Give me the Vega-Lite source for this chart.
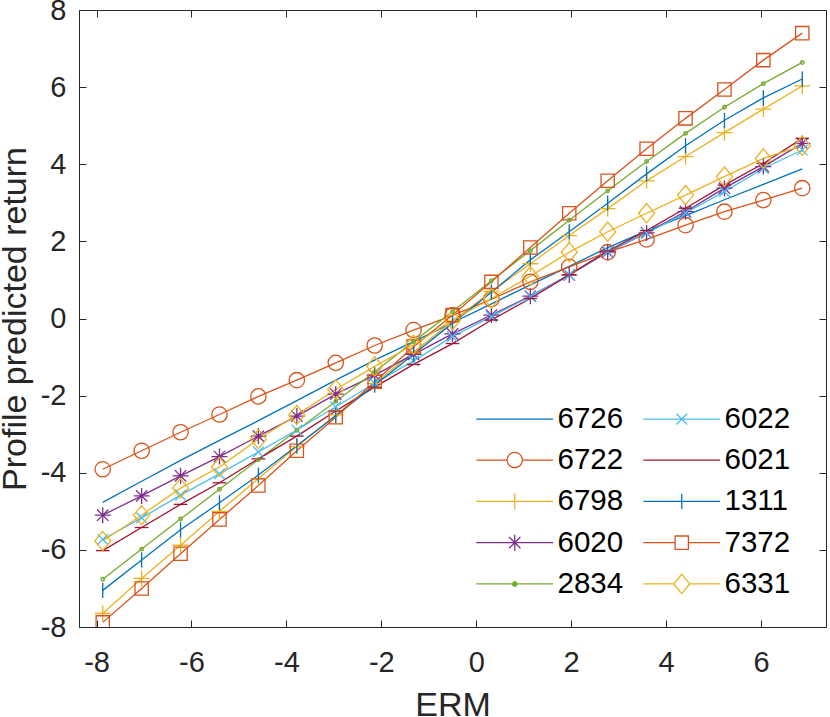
{
  "$schema": "https://vega.github.io/schema/vega-lite/v6.json",
  "width": 747,
  "height": 617,
  "autosize": {"type": "none"},
  "padding": {"left": 79, "top": 10, "right": 4, "bottom": 90},
  "background": "white",
  "config": {
    "view": {"stroke": "#262626", "strokeWidth": 1},
    "axis": {
      "domain": false,
      "grid": false,
      "labelFont": "Liberation Sans",
      "labelFontSize": 29,
      "labelColor": "#262626",
      "labelExpr": "datum.value < 0 ? '-' + abs(datum.value) : '' + datum.value",
      "tickColor": "#262626",
      "tickWidth": 1,
      "tickSize": -7,
      "titleFont": "Liberation Sans",
      "titleFontSize": 34,
      "titleFontWeight": "normal",
      "titleColor": "#262626"
    }
  },
  "data": {
    "values": [
      {"industry": "6726", "erm": -7.87, "ret": -4.77}, {"industry": "6726", "erm": -7.05, "ret": -4.22}, {"industry": "6726", "erm": -6.23, "ret": -3.68}, {"industry": "6726", "erm": -5.41, "ret": -3.16}, {"industry": "6726", "erm": -4.59, "ret": -2.65}, {"industry": "6726", "erm": -3.78, "ret": -2.13}, {"industry": "6726", "erm": -2.96, "ret": -1.60}, {"industry": "6726", "erm": -2.14, "ret": -1.08}, {"industry": "6726", "erm": -1.32, "ret": -0.60}, {"industry": "6726", "erm": -0.50, "ret": -0.11}, {"industry": "6726", "erm": 0.32, "ret": 0.38}, {"industry": "6726", "erm": 1.14, "ret": 0.87}, {"industry": "6726", "erm": 1.96, "ret": 1.35}, {"industry": "6726", "erm": 2.77, "ret": 1.84}, {"industry": "6726", "erm": 3.59, "ret": 2.27}, {"industry": "6726", "erm": 4.41, "ret": 2.67}, {"industry": "6726", "erm": 5.23, "ret": 3.08}, {"industry": "6726", "erm": 6.05, "ret": 3.48}, {"industry": "6726", "erm": 6.87, "ret": 3.88},
      {"industry": "6722", "erm": -7.87, "ret": -3.91}, {"industry": "6722", "erm": -7.05, "ret": -3.43}, {"industry": "6722", "erm": -6.23, "ret": -2.95}, {"industry": "6722", "erm": -5.41, "ret": -2.49}, {"industry": "6722", "erm": -4.59, "ret": -2.02}, {"industry": "6722", "erm": -3.78, "ret": -1.60}, {"industry": "6722", "erm": -2.96, "ret": -1.15}, {"industry": "6722", "erm": -2.14, "ret": -0.70}, {"industry": "6722", "erm": -1.32, "ret": -0.30}, {"industry": "6722", "erm": -0.50, "ret": 0.08}, {"industry": "6722", "erm": 0.32, "ret": 0.50}, {"industry": "6722", "erm": 1.14, "ret": 0.95}, {"industry": "6722", "erm": 1.96, "ret": 1.34}, {"industry": "6722", "erm": 2.77, "ret": 1.72}, {"industry": "6722", "erm": 3.59, "ret": 2.05}, {"industry": "6722", "erm": 4.41, "ret": 2.42}, {"industry": "6722", "erm": 5.23, "ret": 2.77}, {"industry": "6722", "erm": 6.05, "ret": 3.07}, {"industry": "6722", "erm": 6.87, "ret": 3.38},
      {"industry": "6798", "erm": -7.87, "ret": -7.65}, {"industry": "6798", "erm": -7.05, "ret": -6.74}, {"industry": "6798", "erm": -6.23, "ret": -5.88}, {"industry": "6798", "erm": -5.41, "ret": -5.00}, {"industry": "6798", "erm": -4.59, "ret": -4.15}, {"industry": "6798", "erm": -3.78, "ret": -3.32}, {"industry": "6798", "erm": -2.96, "ret": -2.50}, {"industry": "6798", "erm": -2.14, "ret": -1.68}, {"industry": "6798", "erm": -1.32, "ret": -0.87}, {"industry": "6798", "erm": -0.50, "ret": -0.07}, {"industry": "6798", "erm": 0.32, "ret": 0.70}, {"industry": "6798", "erm": 1.14, "ret": 1.42}, {"industry": "6798", "erm": 1.96, "ret": 2.15}, {"industry": "6798", "erm": 2.77, "ret": 2.85}, {"industry": "6798", "erm": 3.59, "ret": 3.57}, {"industry": "6798", "erm": 4.41, "ret": 4.20}, {"industry": "6798", "erm": 5.23, "ret": 4.82}, {"industry": "6798", "erm": 6.05, "ret": 5.43}, {"industry": "6798", "erm": 6.87, "ret": 6.03},
      {"industry": "6020", "erm": -7.87, "ret": -5.10}, {"industry": "6020", "erm": -7.05, "ret": -4.60}, {"industry": "6020", "erm": -6.23, "ret": -4.08}, {"industry": "6020", "erm": -5.41, "ret": -3.58}, {"industry": "6020", "erm": -4.59, "ret": -3.05}, {"industry": "6020", "erm": -3.78, "ret": -2.53}, {"industry": "6020", "erm": -2.96, "ret": -1.96}, {"industry": "6020", "erm": -2.14, "ret": -1.47}, {"industry": "6020", "erm": -1.32, "ret": -0.93}, {"industry": "6020", "erm": -0.50, "ret": -0.40}, {"industry": "6020", "erm": 0.32, "ret": 0.09}, {"industry": "6020", "erm": 1.14, "ret": 0.58}, {"industry": "6020", "erm": 1.96, "ret": 1.13}, {"industry": "6020", "erm": 2.77, "ret": 1.72}, {"industry": "6020", "erm": 3.59, "ret": 2.22}, {"industry": "6020", "erm": 4.41, "ret": 2.77}, {"industry": "6020", "erm": 5.23, "ret": 3.38}, {"industry": "6020", "erm": 6.05, "ret": 3.94}, {"industry": "6020", "erm": 6.87, "ret": 4.54},
      {"industry": "2834", "erm": -7.87, "ret": -6.76}, {"industry": "2834", "erm": -7.05, "ret": -5.98}, {"industry": "2834", "erm": -6.23, "ret": -5.20}, {"industry": "2834", "erm": -5.41, "ret": -4.43}, {"industry": "2834", "erm": -4.59, "ret": -3.66}, {"industry": "2834", "erm": -3.78, "ret": -2.90}, {"industry": "2834", "erm": -2.96, "ret": -2.15}, {"industry": "2834", "erm": -2.14, "ret": -1.38}, {"industry": "2834", "erm": -1.32, "ret": -0.60}, {"industry": "2834", "erm": -0.50, "ret": 0.18}, {"industry": "2834", "erm": 0.32, "ret": 0.98}, {"industry": "2834", "erm": 1.14, "ret": 1.76}, {"industry": "2834", "erm": 1.96, "ret": 2.55}, {"industry": "2834", "erm": 2.77, "ret": 3.31}, {"industry": "2834", "erm": 3.59, "ret": 4.07}, {"industry": "2834", "erm": 4.41, "ret": 4.80}, {"industry": "2834", "erm": 5.23, "ret": 5.48}, {"industry": "2834", "erm": 6.05, "ret": 6.09}, {"industry": "2834", "erm": 6.87, "ret": 6.64},
      {"industry": "6022", "erm": -7.87, "ret": -5.73}, {"industry": "6022", "erm": -7.05, "ret": -5.17}, {"industry": "6022", "erm": -6.23, "ret": -4.58}, {"industry": "6022", "erm": -5.41, "ret": -4.03}, {"industry": "6022", "erm": -4.59, "ret": -3.46}, {"industry": "6022", "erm": -3.78, "ret": -2.89}, {"industry": "6022", "erm": -2.96, "ret": -2.29}, {"industry": "6022", "erm": -2.14, "ret": -1.68}, {"industry": "6022", "erm": -1.32, "ret": -1.10}, {"industry": "6022", "erm": -0.50, "ret": -0.47}, {"industry": "6022", "erm": 0.32, "ret": 0.05}, {"industry": "6022", "erm": 1.14, "ret": 0.57}, {"industry": "6022", "erm": 1.96, "ret": 1.13}, {"industry": "6022", "erm": 2.77, "ret": 1.74}, {"industry": "6022", "erm": 3.59, "ret": 2.21}, {"industry": "6022", "erm": 4.41, "ret": 2.74}, {"industry": "6022", "erm": 5.23, "ret": 3.29}, {"industry": "6022", "erm": 6.05, "ret": 3.89}, {"industry": "6022", "erm": 6.87, "ret": 4.37},
      {"industry": "6021", "erm": -7.87, "ret": -6.02}, {"industry": "6021", "erm": -7.05, "ret": -5.42}, {"industry": "6021", "erm": -6.23, "ret": -4.82}, {"industry": "6021", "erm": -5.41, "ret": -4.26}, {"industry": "6021", "erm": -4.59, "ret": -3.64}, {"industry": "6021", "erm": -3.78, "ret": -3.05}, {"industry": "6021", "erm": -2.96, "ret": -2.40}, {"industry": "6021", "erm": -2.14, "ret": -1.78}, {"industry": "6021", "erm": -1.32, "ret": -1.19}, {"industry": "6021", "erm": -0.50, "ret": -0.65}, {"industry": "6021", "erm": 0.32, "ret": -0.04}, {"industry": "6021", "erm": 1.14, "ret": 0.52}, {"industry": "6021", "erm": 1.96, "ret": 1.13}, {"industry": "6021", "erm": 2.77, "ret": 1.75}, {"industry": "6021", "erm": 3.59, "ret": 2.28}, {"industry": "6021", "erm": 4.41, "ret": 2.86}, {"industry": "6021", "erm": 5.23, "ret": 3.46}, {"industry": "6021", "erm": 6.05, "ret": 4.02}, {"industry": "6021", "erm": 6.87, "ret": 4.67},
      {"industry": "1311", "erm": -7.87, "ret": -7.05}, {"industry": "1311", "erm": -7.05, "ret": -6.26}, {"industry": "1311", "erm": -6.23, "ret": -5.48}, {"industry": "1311", "erm": -5.41, "ret": -4.78}, {"industry": "1311", "erm": -4.59, "ret": -4.06}, {"industry": "1311", "erm": -3.78, "ret": -3.30}, {"industry": "1311", "erm": -2.96, "ret": -2.52}, {"industry": "1311", "erm": -2.14, "ret": -1.73}, {"industry": "1311", "erm": -1.32, "ret": -0.93}, {"industry": "1311", "erm": -0.50, "ret": -0.12}, {"industry": "1311", "erm": 0.32, "ret": 0.68}, {"industry": "1311", "erm": 1.14, "ret": 1.52}, {"industry": "1311", "erm": 1.96, "ret": 2.25}, {"industry": "1311", "erm": 2.77, "ret": 2.99}, {"industry": "1311", "erm": 3.59, "ret": 3.75}, {"industry": "1311", "erm": 4.41, "ret": 4.48}, {"industry": "1311", "erm": 5.23, "ret": 5.14}, {"industry": "1311", "erm": 6.05, "ret": 5.72}, {"industry": "1311", "erm": 6.87, "ret": 6.21},
      {"industry": "7372", "erm": -7.87, "ret": -7.88}, {"industry": "7372", "erm": -7.05, "ret": -7.00}, {"industry": "7372", "erm": -6.23, "ret": -6.10}, {"industry": "7372", "erm": -5.41, "ret": -5.21}, {"industry": "7372", "erm": -4.59, "ret": -4.33}, {"industry": "7372", "erm": -3.78, "ret": -3.43}, {"industry": "7372", "erm": -2.96, "ret": -2.56}, {"industry": "7372", "erm": -2.14, "ret": -1.64}, {"industry": "7372", "erm": -1.32, "ret": -0.73}, {"industry": "7372", "erm": -0.50, "ret": 0.09}, {"industry": "7372", "erm": 0.32, "ret": 0.95}, {"industry": "7372", "erm": 1.14, "ret": 1.84}, {"industry": "7372", "erm": 1.96, "ret": 2.73}, {"industry": "7372", "erm": 2.77, "ret": 3.57}, {"industry": "7372", "erm": 3.59, "ret": 4.40}, {"industry": "7372", "erm": 4.41, "ret": 5.19}, {"industry": "7372", "erm": 5.23, "ret": 5.94}, {"industry": "7372", "erm": 6.05, "ret": 6.70}, {"industry": "7372", "erm": 6.87, "ret": 7.40},
      {"industry": "6331", "erm": -7.87, "ret": -5.77}, {"industry": "6331", "erm": -7.05, "ret": -5.10}, {"industry": "6331", "erm": -6.23, "ret": -4.40}, {"industry": "6331", "erm": -5.41, "ret": -3.85}, {"industry": "6331", "erm": -4.59, "ret": -3.13}, {"industry": "6331", "erm": -3.78, "ret": -2.50}, {"industry": "6331", "erm": -2.96, "ret": -1.84}, {"industry": "6331", "erm": -2.14, "ret": -1.24}, {"industry": "6331", "erm": -1.32, "ret": -0.68}, {"industry": "6331", "erm": -0.50, "ret": -0.04}, {"industry": "6331", "erm": 0.32, "ret": 0.52}, {"industry": "6331", "erm": 1.14, "ret": 1.10}, {"industry": "6331", "erm": 1.96, "ret": 1.72}, {"industry": "6331", "erm": 2.77, "ret": 2.25}, {"industry": "6331", "erm": 3.59, "ret": 2.73}, {"industry": "6331", "erm": 4.41, "ret": 3.20}, {"industry": "6331", "erm": 5.23, "ret": 3.68}, {"industry": "6331", "erm": 6.05, "ret": 4.15}, {"industry": "6331", "erm": 6.87, "ret": 4.48}
    ]
  },
  "resolve": {"scale": {"x": "independent", "y": "independent"}},
  "layer": [
    {
      "encoding": {
        "x": {
          "field": "erm", "type": "quantitative",
          "scale": {"domain": [-8.37, 7.37], "nice": false, "zero": false},
          "axis": {
            "orient": "bottom", "values": [-8, -6, -4, -2, 0, 2, 4, 6],
            "labelPadding": 28, "title": "ERM",
            "titleX": 373.5, "titleY": 88, "titleBaseline": "alphabetic"
          }
        },
        "y": {
          "field": "ret", "type": "quantitative",
          "scale": {"domain": [-8, 8], "nice": false, "zero": false},
          "axis": {
            "orient": "left", "values": [-8, -6, -4, -2, 0, 2, 4, 6, 8],
            "labelPadding": 20, "title": "Profile predicted return",
            "titleX": -54, "titleY": 308.5, "titleAngle": -90,
            "titleAlign": "center", "titleBaseline": "alphabetic"
          }
        },
        "color": {
          "field": "industry", "type": "nominal",
          "scale": {
            "domain": ["6726", "6722", "6798", "6020", "2834", "6022", "6021", "1311", "7372", "6331"],
            "range": ["#0072BD", "#D95319", "#EDB120", "#7E2F8E", "#77AC30", "#4DBEEE", "#A2142F", "#0072BD", "#D95319", "#EDB120"]
          },
          "legend": {
            "orient": "none", "legendX": 421, "legendY": 394,
            "columns": 2, "title": null, "padding": 0,
            "labelFont": "Liberation Sans", "labelFontSize": 29.5, "labelColor": "#000000",
            "labelOffset": 28, "rowPadding": 10.3, "columnPadding": 16,
            "symbolSize": 256, "symbolStrokeWidth": 1.3,
            "encoding": {
              "symbols": {
                "shape": {"value": {"expr": "{'6726': 'M-4.8,0L4.8,0', '6022': 'M-4.8,0L4.8,0M-0.67,-0.67L0.67,0.67M-0.67,0.67L0.67,-0.67', '6722': 'M-4.8,0L-0.96,0M0.96,0L4.8,0M0.96,0A0.96,0.96,0,1,1,-0.96,0A0.96,0.96,0,1,1,0.96,0Z', '6021': 'M-4.8,0L4.8,0', '6798': 'M-4.8,0L4.8,0M0,-1L0,1', '1311': 'M-4.8,0L4.8,0M0,-0.95L0,0.95', '6020': 'M-4.8,0L4.8,0M0,-1L0,1M-0.71,-0.71L0.71,0.71M-0.71,0.71L0.71,-0.71', '7372': 'M-4.8,0L-0.83,0M0.83,0L4.8,0M-0.83,-0.83L0.83,-0.83L0.83,0.83L-0.83,0.83Z', '2834': 'M-4.8,0L4.8,0M0.28,0A0.28,0.28,0,1,1,-0.28,0A0.28,0.28,0,1,1,0.28,0Z', '6331': 'M-4.8,0L-1,0M1,0L4.8,0M0,-1.2L1,0L0,1.2L-1,0Z'}[datum.value]"}},
                "fill": {"value": {"expr": "datum.value === '2834' ? scale('color', datum.value) : 'transparent'"}},
                "size": {"value": 256},
                "opacity": {"value": 1}
              }
            }
          }
        }
      },
      "layer": [
        {
          "mark": {"type": "line", "strokeWidth": 1.3, "clip": true}
        },
        {
          "transform": [{"filter": "datum.industry !== '6726' && datum.industry !== '2834'"}],
          "mark": {"type": "point", "filled": false, "size": 256, "strokeWidth": 1.3, "opacity": 1, "clip": true},
          "encoding": {
            "shape": {
              "field": "industry", "type": "nominal", "legend": null,
              "scale": {
                "domain": ["6722", "6798", "6020", "6022", "6021", "1311", "7372", "6331", "6726", "2834"],
                "range": [
                  "M0.96,0A0.96,0.96,0,1,1,-0.96,0A0.96,0.96,0,1,1,0.96,0Z",
                  "M-1,0L1,0M0,-1L0,1",
                  "M-1,0L1,0M0,-1L0,1M-0.71,-0.71L0.71,0.71M-0.71,0.71L0.71,-0.71",
                  "M-0.67,-0.67L0.67,0.67M-0.67,0.67L0.67,-0.67",
                  "M-0.85,0L0.85,0",
                  "M0,-0.95L0,0.95",
                  "M-0.83,-0.83L0.83,-0.83L0.83,0.83L-0.83,0.83Z",
                  "M0,-1.2L1,0L0,1.2L-1,0Z",
                  "M0,0",
                  "M0,0"
                ]
              }
            }
          }
        },
        {
          "transform": [{"filter": "datum.industry === '2834'"}],
          "mark": {"type": "point", "shape": "circle", "filled": false, "size": 2, "strokeWidth": 3.5, "opacity": 1, "clip": true}
        }
      ]
    },
    {
      "mark": {"type": "point", "opacity": 0},
      "encoding": {
        "x": {
          "field": "erm", "type": "quantitative",
          "scale": {"domain": [-8.37, 7.37], "nice": false, "zero": false},
          "axis": {"orient": "top", "values": [-8, -6, -4, -2, 0, 2, 4, 6], "labels": false, "title": null}
        },
        "y": {
          "field": "ret", "type": "quantitative",
          "scale": {"domain": [-8, 8], "nice": false, "zero": false},
          "axis": {"orient": "right", "values": [-8, -6, -4, -2, 0, 2, 4, 6, 8], "labels": false, "title": null}
        }
      }
    }
  ]
}
